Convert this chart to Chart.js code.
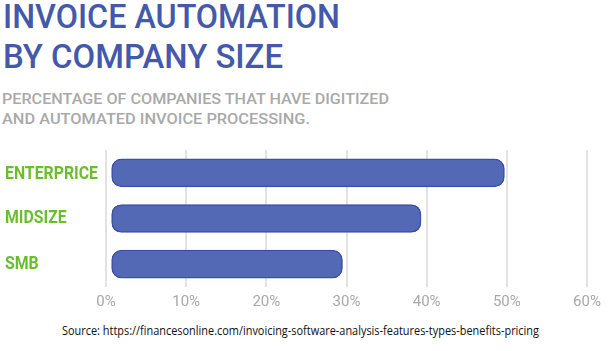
<!DOCTYPE html>
<html>
<head>
<meta charset="utf-8">
<script src="https://cdn.jsdelivr.net/npm/chart.js@4"></script>
<style>
  html, body { margin: 0; padding: 0; background: #fff; }
  body { width: 610px; height: 351px; position: relative; overflow: hidden; }
  .txt { position: absolute; white-space: nowrap; transform-origin: 0 0; }
  #title1, #title2 { font-family: Roboto, sans-serif; font-weight: 500; font-size: 34px; color: #4459aa; line-height: 1; }
  #sub1, #sub2 { font-family: Roboto, sans-serif; font-weight: 500; font-size: 15.5px; color: #a9a9a9; line-height: 1; }
  #source { font-family: "Open Sans", sans-serif; font-size: 12.5px; color: #111; line-height: 1; }
  #wrap { position: absolute; left: 0; top: 142px; width: 610px; height: 175px; }
</style>
</head>
<body>
<div class="txt" id="title1" data-w="337" style="left:3px; top:-1px;">INVOICE AUTOMATION</div>
<div class="txt" id="title2" data-w="280" style="left:3px; top:39px;">BY COMPANY SIZE</div>
<div class="txt" id="sub1" data-w="387" style="left:2px; top:92px;">PERCENTAGE OF COMPANIES THAT HAVE DIGITIZED</div>
<div class="txt" id="sub2" data-w="308" style="left:2px; top:112px;">AND AUTOMATED INVOICE PROCESSING.</div>
<div id="wrap"><canvas id="chart"></canvas></div>
<div class="txt" id="source" data-w="477" style="left:62px; top:325px;">Source: https://financesonline.com/invoicing-software-analysis-features-types-benefits-pricing</div>
<script>
// values (percent)
const categories = ['ENTERPRICE', 'MIDSIZE', 'SMB'];
const barStarts = [0.7, 0.7, 0.7];
const barEnds = [49.7, 39.3, 29.5];
const xTicks = [0, 10, 20, 30, 40, 50, 60];

// squeeze the html texts to the widths in the picture
document.querySelectorAll('.txt').forEach(el => {
    const target = parseFloat(el.dataset.w);
    const w = el.getBoundingClientRect().width;
    if (w > 0) el.style.transform = 'scaleX(' + (target / w) + ')';
});

// category names drawn a bit narrower than the installed fonts allow
const categoryLabels = {
    id: 'categoryLabels',
    afterDraw(chart) {
        const c = chart.ctx;
        const yScale = chart.scales.y;
        c.save();
        c.font = 'bold 17.5px Roboto, sans-serif';
        c.fillStyle = '#6abd2d';
        c.textBaseline = 'middle';
        c.textAlign = 'left';
        const squeeze = 93 / c.measureText(categories[0]).width;
        categories.forEach((name, i) => {
            const y = yScale.getPixelForTick(i) + (i === 0 ? 1.5 : 0);
            c.save();
            c.translate(5, y);
            c.scale(squeeze, 1);
            c.fillText(name, 0, 0);
            c.restore();
        });
        c.restore();
    }
};

const ctx = document.getElementById('chart');
new Chart(ctx, {
    type: 'bar',
    data: {
        labels: categories,
        datasets: [{
            data: categories.map((c, i) => [barStarts[i], barEnds[i]]),
            backgroundColor: '#5469b5',
            borderColor: '#3c50a4',
            borderWidth: 1.5,
            borderRadius: 10,
            borderSkipped: false,
            barThickness: 28
        }]
    },
    plugins: [categoryLabels],
    options: {
        indexAxis: 'y',
        responsive: true,
        maintainAspectRatio: false,
        animation: false,
        layout: { padding: { top: 8, right: 23, left: 4, bottom: 0 } },
        plugins: { legend: { display: false }, tooltip: { enabled: false } },
        scales: {
            x: {
                min: 0,
                max: 60,
                afterBuildTicks: scale => { scale.ticks = xTicks.map(v => ({ value: v })); },
                grid: { color: '#e2e2e2', lineWidth: 2, drawTicks: false },
                border: { display: false },
                ticks: {
                    color: '#a8a8a8',
                    padding: 6,
                    font: { family: 'Roboto', size: 15 },
                    callback: v => v + '%'
                }
            },
            y: {
                afterFit: scale => { scale.width = 102; },
                grid: { display: false },
                border: { display: false },
                ticks: { display: false }
            }
        }
    }
});
</script>
</body>
</html>
